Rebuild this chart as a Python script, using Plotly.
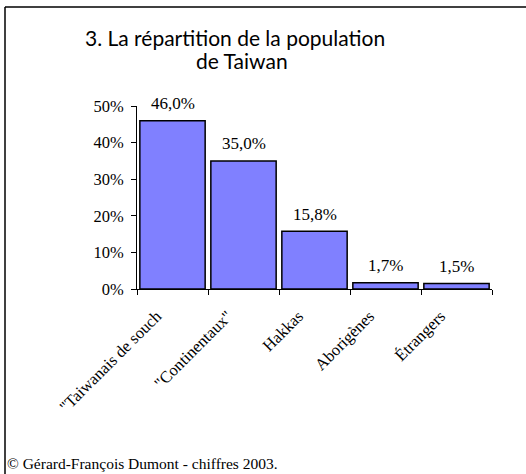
import plotly.graph_objects as go

# data
categories = ['"Taiwanais de souch', '"Continentaux"', 'Hakkas', 'Aborigènes', 'Étrangers']
shares = [46.0, 35.0, 15.8, 1.7, 1.5]
share_labels = ['46,0%', '35,0%', '15,8%', '1,7%', '1,5%']
y_ticks = [0, 10, 20, 30, 40, 50]
y_tick_labels = ['0%', '10%', '20%', '30%', '40%', '50%']

serif = 'Liberation Serif, Times New Roman, serif'
sans = 'Lato, Noto Sans, sans-serif'

W, H = 526, 474
left, right, top, bottom = 137, 34, 106, 185
plot_w = W - left - right
plot_h = H - top - bottom

fig = go.Figure()
fig.add_trace(go.Bar(
    x=categories,
    y=shares,
    marker=dict(color='#8080FF', line=dict(color='black', width=1.5)),
    hoverinfo='skip',
))

# value labels above bars
for cat, val, lab in zip(categories, shares, share_labels):
    fig.add_annotation(
        x=cat, y=val, text=lab, showarrow=False,
        yanchor='middle', yshift=17,
        font=dict(family=serif, size=17, color='black'),
    )


def px_x(px):
    return (px - left) / plot_w


def px_y(py):
    return (H - bottom - py) / plot_h


# title (two centred lines)
fig.add_annotation(
    x=px_x(235), y=px_y(37), xref='paper', yref='paper',
    text='3. La répartition de la population', showarrow=False,
    xanchor='center', yanchor='middle',
    font=dict(family=sans, size=21, color='black'),
)
fig.add_annotation(
    x=px_x(242), y=px_y(61), xref='paper', yref='paper',
    text='de Taiwan', showarrow=False,
    xanchor='center', yanchor='middle',
    font=dict(family=sans, size=21, color='black'),
)

# source note
fig.add_annotation(
    x=px_x(5), y=px_y(463), xref='paper', yref='paper',
    text='© Gérard-François Dumont - chiffres 2003.', showarrow=False,
    xanchor='left', yanchor='middle',
    font=dict(family=serif, size=15.5, color='black'),
)

# chart frame (top and left edges visible)
fig.add_shape(type='line', xref='paper', yref='paper',
              x0=px_x(5), x1=px_x(W + 5), y0=px_y(7), y1=px_y(7),
              line=dict(color='black', width=1.5))
fig.add_shape(type='line', xref='paper', yref='paper',
              x0=px_x(5), x1=px_x(5), y0=px_y(7), y1=px_y(H + 5),
              line=dict(color='black', width=1.5))

fig.update_layout(
    width=W, height=H,
    margin=dict(l=left, r=right, t=top, b=bottom),
    paper_bgcolor='white', plot_bgcolor='white',
    showlegend=False,
    bargap=0.08,
    xaxis=dict(
        type='category',
        tickangle=-45,
        ticks='outside', ticklen=5, tickcolor='black',
        tickson='boundaries',
        showline=True, linecolor='black', linewidth=1,
        showgrid=False, zeroline=False,
        ticklabelstandoff=10,
        ticklabelshift=-16,
        tickfont=dict(family=serif, size=16.5, color='black'),
    ),
    yaxis=dict(
        range=[0, 50],
        tickvals=y_ticks, ticktext=y_tick_labels,
        ticks='outside', ticklen=5, tickcolor='black',
        showline=True, linecolor='black', linewidth=1,
        showgrid=False, zeroline=False,
        ticklabelstandoff=4,
        tickfont=dict(family=serif, size=16.5, color='black'),
    ),
)

fig.write_html('out.html', config={'displayModeBar': False},
               post_script="document.body.style.margin='0';")
